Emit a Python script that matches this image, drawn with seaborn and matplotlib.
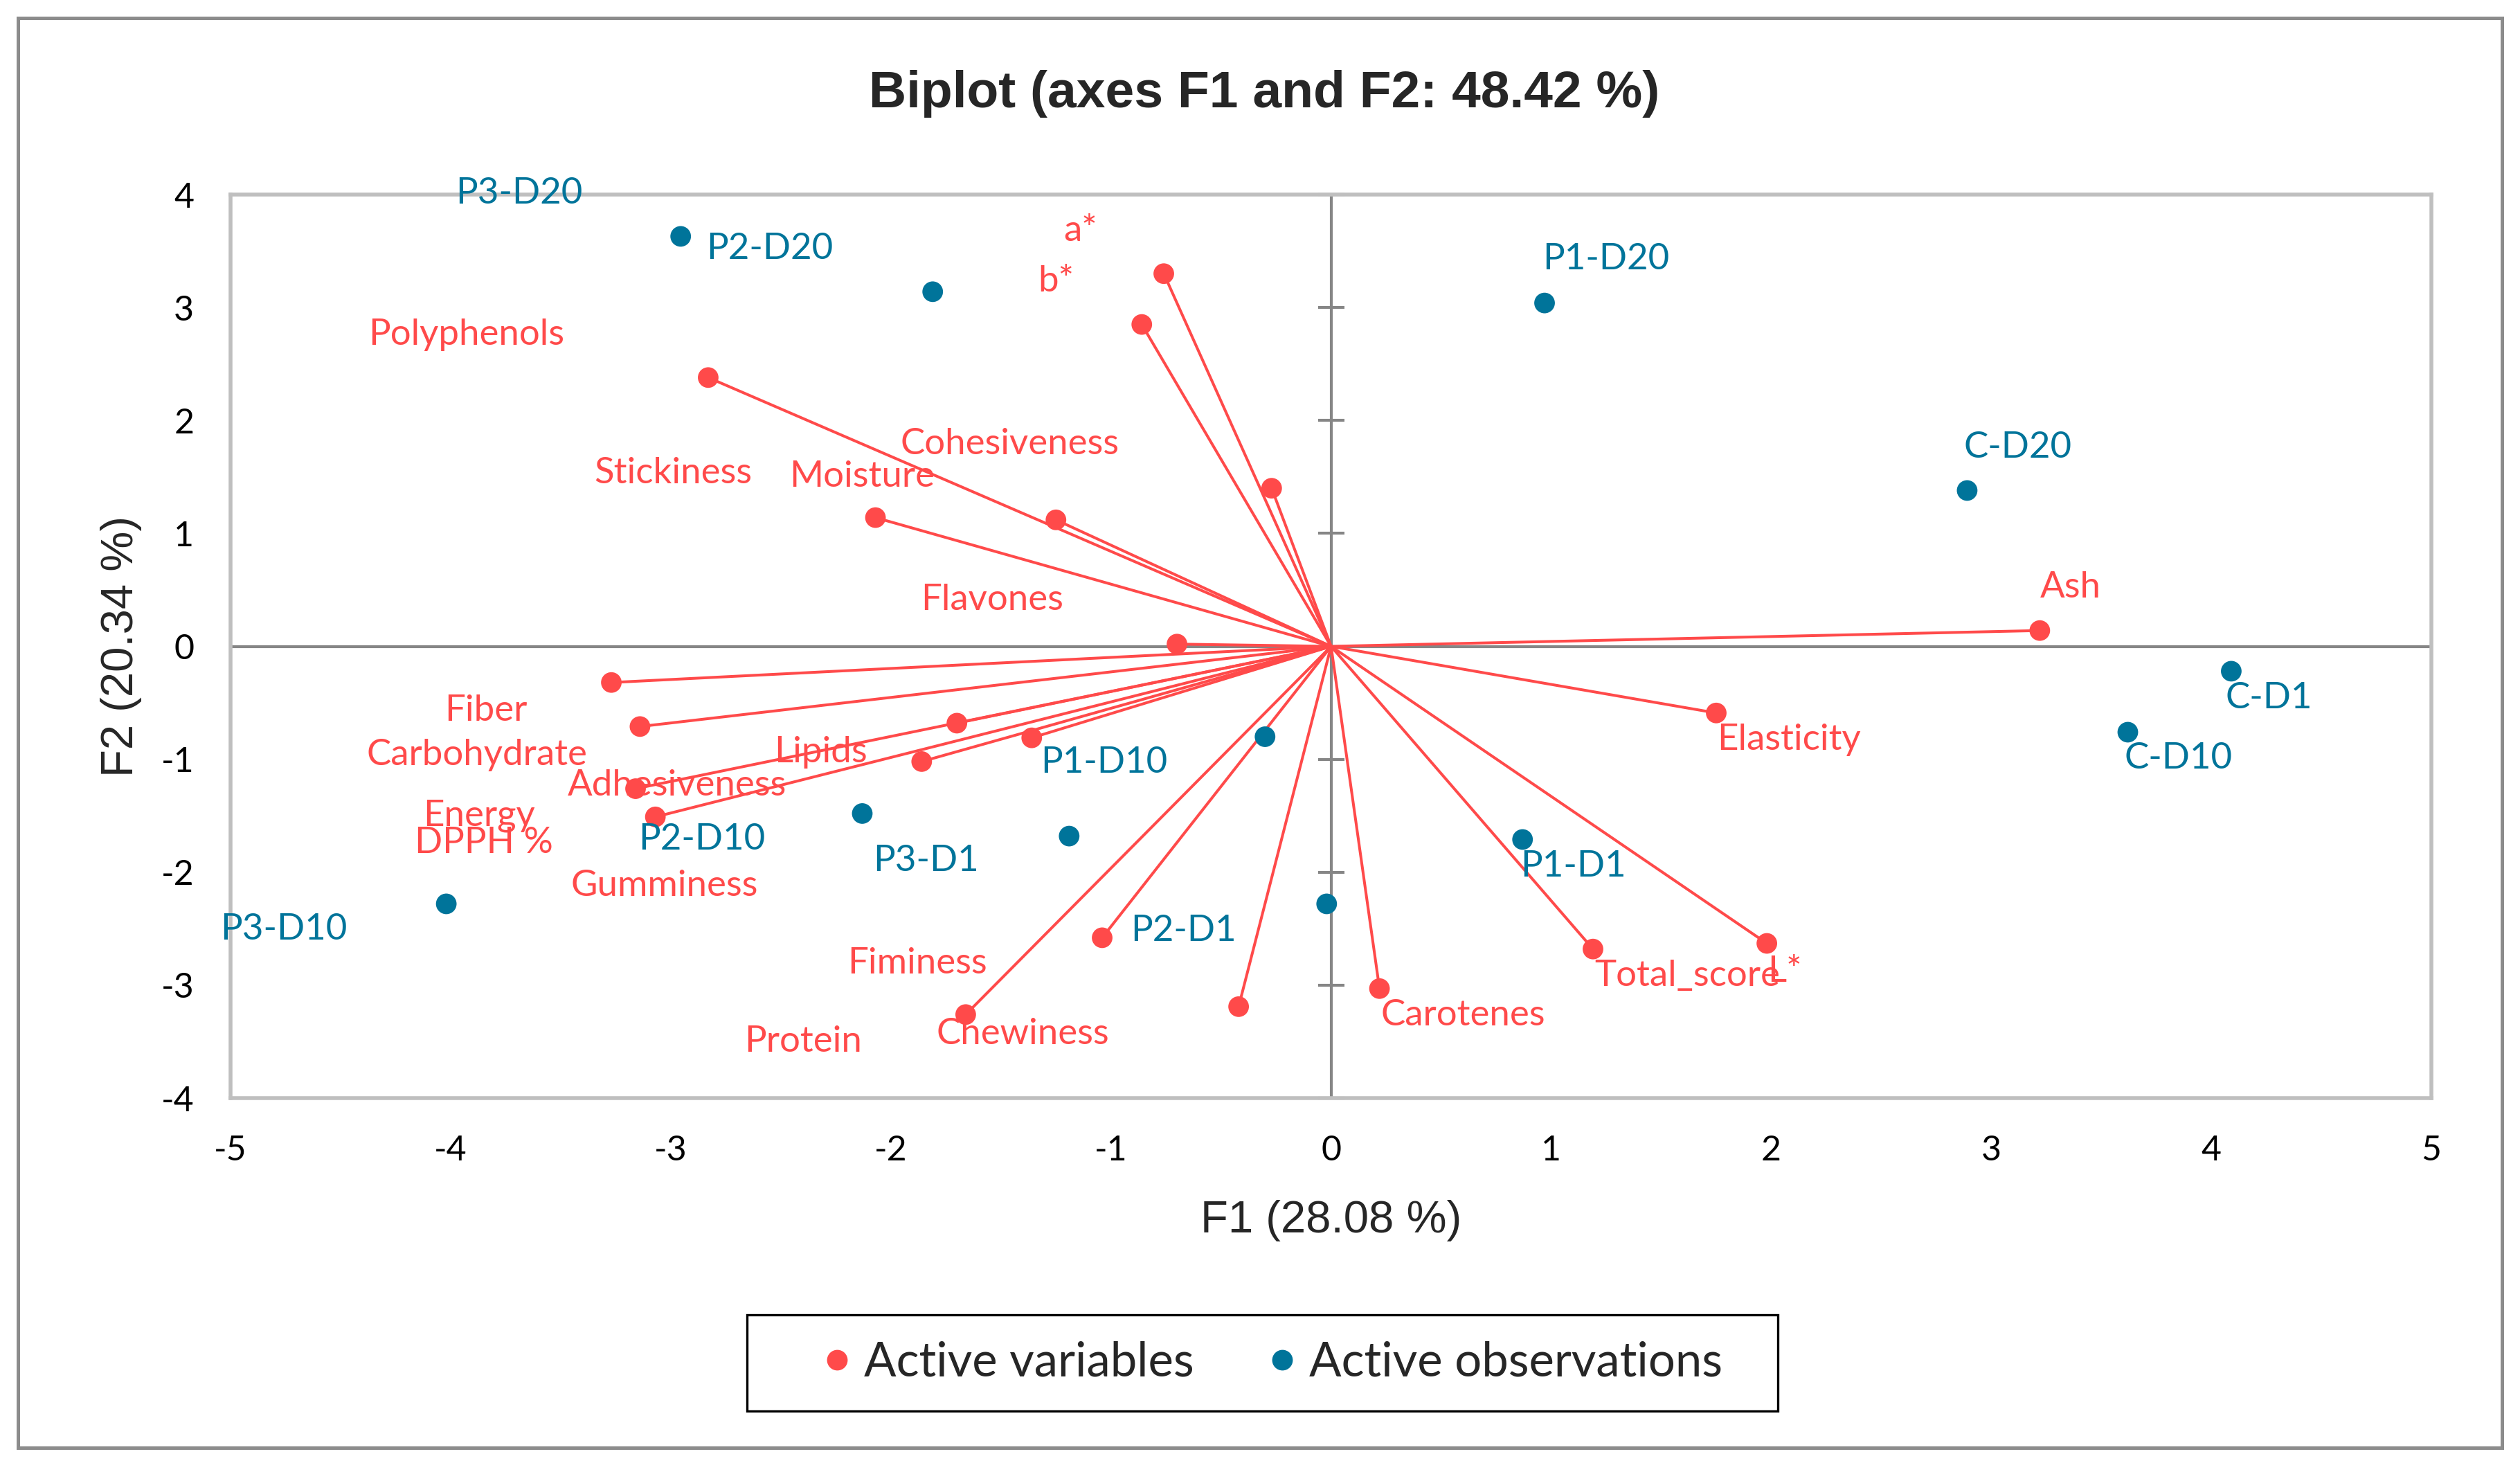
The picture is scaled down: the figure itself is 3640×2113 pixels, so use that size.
import numpy as np
import pandas as pd
import matplotlib
matplotlib.use("Agg")
import matplotlib.pyplot as plt
from matplotlib.patches import Rectangle
import seaborn as sns

# active variables: coordinates on F1 / F2
variables = ["a*", "b*", "Polyphenols", "Cohesiveness", "Moisture", "Stickiness",
             "Flavones", "Ash", "Elasticity", "Fiber", "Carbohydrate", "Lipids",
             "Adhesiveness", "Energy", "DPPH %", "Gumminess", "Fiminess",
             "Chewiness", "Protein", "Carotenes", "Total_score", "L*"]
var_f1 = [-0.76, -0.86, -2.83, -0.27, -1.25, -2.07, -0.70, 3.22, 1.75, -3.27, -3.14,
          -1.70, -3.16, -3.07, -1.86, -1.36, -1.04, -1.66, -0.42, 0.22, 1.19, 1.98]
var_f2 = [3.30, 2.85, 2.38, 1.40, 1.12, 1.14, 0.02, 0.14, -0.59, -0.32, -0.71,
          -0.68, -1.26, -1.51, -1.02, -0.81, -2.58, -3.26, -3.19, -3.03, -2.68, -2.63]

# active observations
observations = ["P2-D20", "P3-D20", "P1-D20", "C-D20", "C-D1", "C-D10",
                "P1-D1", "P1-D10", "P3-D1", "P2-D10", "P3-D10", "P2-D1"]
obs_f1 = [-2.955, -1.81, 0.97, 2.89, 4.09, 3.62, 0.87, -0.30, -1.19, -2.13, -4.02, -0.02]
obs_f2 = [3.63, 3.14, 3.04, 1.38, -0.22, -0.76, -1.71, -0.80, -1.68, -1.48, -2.28, -2.28]

# where the labels sit (as placed in the original chart)
var_lab_xy = [(-1.14, 3.68), (-1.25, 3.23), (-3.93, 2.76), (-1.46, 1.79), (-2.13, 1.50),
              (-2.99, 1.53), (-1.54, 0.41), (3.36, 0.52), (2.08, -0.83), (-3.84, -0.57),
              (-3.88, -0.96), (-2.32, -0.94), (-2.97, -1.23), (-3.87, -1.50), (-3.85, -1.74),
              (-3.03, -2.12), (-1.88, -2.81), (-1.40, -3.43), (-2.40, -3.50), (0.60, -3.27),
              (1.62, -2.92), (2.06, -2.88)]
obs_lab_xy = [(-2.55, 3.52), (-3.69, 4.01), (1.25, 3.43), (3.12, 1.76), (4.26, -0.46),
              (3.85, -0.99), (1.10, -1.95), (-1.03, -1.03), (-1.84, -1.90), (-2.86, -1.71),
              (-4.76, -2.51), (-0.67, -2.52)]

x_ticks = list(range(-5, 6))
y_ticks = list(range(-4, 5))

RED = "#FF4A4A"
BLUE = "#00749A"
AXGRAY = "#868686"

sns.set_theme(style="white")
plt.rcParams["font.family"] = ["Lato", "DejaVu Sans"]
plt.rcParams["axes.unicode_minus"] = False

df = pd.concat([
    pd.DataFrame({"F1": var_f1, "F2": var_f2, "kind": "Active variables"}),
    pd.DataFrame({"F1": obs_f1, "F2": obs_f2, "kind": "Active observations"}),
], ignore_index=True)

fig = plt.figure(figsize=(18.2, 10.565), dpi=200)
ax = fig.add_axes([0.0915, 0.2494, 0.8734, 0.6176])

# zero axes with crossing ticks on the vertical one
ax.axhline(0, color=AXGRAY, lw=1.5, zorder=1)
ax.axvline(0, color=AXGRAY, lw=1.5, zorder=1)
ax.plot(np.zeros(len(y_ticks)), y_ticks, ls="none", marker="_", ms=13.5,
        mew=1.5, color=AXGRAY, zorder=1, clip_on=False)

# variable vectors
for x, y in zip(var_f1, var_f2):
    ax.plot([0, x], [0, y], color=RED, lw=1.45, zorder=2)

sns.scatterplot(data=df, x="F1", y="F2", hue="kind",
                hue_order=["Active variables", "Active observations"],
                palette={"Active variables": RED, "Active observations": BLUE},
                s=115, linewidth=0, ax=ax, zorder=3)

for name, (lx, ly) in zip(variables, var_lab_xy):
    ax.text(lx, ly, name, color=RED, fontsize=19, ha="center", va="center", zorder=4)
for name, (lx, ly) in zip(observations, obs_lab_xy):
    ax.text(lx, ly, name, color=BLUE, fontsize=19, ha="center", va="center",
            zorder=4, clip_on=False)

ax.set_xlim(-5, 5)
ax.set_ylim(-4, 4)
ax.set_xticks(x_ticks)
ax.set_yticks(y_ticks)
ax.tick_params(length=0, labelsize=18, pad=19, colors="black")
for sp in ax.spines.values():
    sp.set_color("#BFBFBF")
    sp.set_linewidth(2)

ax.set_xlabel("F1 (28.08 %)", family="Liberation Sans", fontsize=23.5)
ax.set_ylabel("F2 (20.34 %)", family="Liberation Sans", fontsize=23.5)
ax.xaxis.set_label_coords(0.5, -0.1357)
ax.xaxis.label.set_va("center")
ax.yaxis.set_label_coords(-0.0498, 0.5)
ax.yaxis.label.set_va("center")

fig.text(0.5017, 0.936, "Biplot (axes F1 and F2: 48.42 %)", family="Liberation Sans",
         fontsize=27, fontweight="bold", ha="center", va="center")

sns.move_legend(ax, loc="center", bbox_to_anchor=(0.504, 0.0684),
                bbox_transform=fig.transFigure, ncol=2, frameon=False, title=None,
                fontsize=24.8, handlelength=0.8, handletextpad=0.17,
                columnspacing=1.45, markerscale=1.0)

# legend box and outer chart border
fig.add_artist(Rectangle((0.2964, 0.0355), 0.4091, 0.0658, transform=fig.transFigure,
                         fill=False, edgecolor="black", lw=1.2))
fig.add_artist(Rectangle((26 / 3640, 22 / 2113), 1 - 52 / 3640, 1 - 48 / 2113,
                         transform=fig.transFigure, fill=False, edgecolor="#8C8C8C", lw=1.8))

fig.savefig("out.png", dpi=200)
